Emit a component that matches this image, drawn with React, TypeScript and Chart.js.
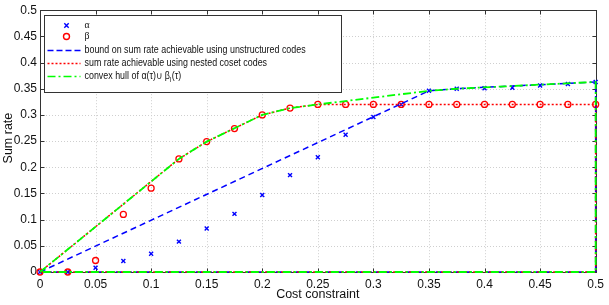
import React, { useEffect, useRef } from "react";
import { Chart, registerables } from "chart.js";

Chart.register(...registerables);

// ---- data ----
const costs = [0, 0.025, 0.05, 0.075, 0.1, 0.125, 0.15, 0.175, 0.2, 0.225, 0.25, 0.275, 0.3, 0.325, 0.35, 0.375, 0.4, 0.425, 0.45, 0.475, 0.5];
const alphaRates = [0, 0, 0.008, 0.021, 0.035, 0.058, 0.083, 0.111, 0.147, 0.185, 0.219, 0.262, 0.296, 0.32, 0.346, 0.35, 0.351, 0.352, 0.356, 0.359, 0.363];
const betaRates = [0, 0, 0.022, 0.11, 0.16, 0.216, 0.249, 0.274, 0.3, 0.313, 0.32, 0.32, 0.32, 0.32, 0.32, 0.32, 0.32, 0.32, 0.32, 0.32, 0.32];
const xTicks = [0, 0.05, 0.1, 0.15, 0.2, 0.25, 0.3, 0.35, 0.4, 0.45, 0.5];
const yTicks = [0, 0.05, 0.1, 0.15, 0.2, 0.25, 0.3, 0.35, 0.4, 0.45, 0.5];
const xTitle = "Cost constraint";
const yTitle = "Sum rate";
const legendLabels = [
  "α",
  "β",
  "bound on sum rate achievable using unstructured codes",
  "sum rate achievable using nested coset codes",
  "convex hull of α(τ)∪ β",
];
const legendSub = "l";
const legendTail = "(τ)";

type P = { x: number; y: number };

function upperHull(pts: P[]): P[] {
  const h: P[] = [];
  const cross = (o: P, a: P, b: P) => (a.x - o.x) * (b.y - o.y) - (a.y - o.y) * (b.x - o.x);
  for (const p of pts) {
    while (h.length >= 2 && cross(h[h.length - 2], h[h.length - 1], p) >= 0) h.pop();
    h.push(p);
  }
  return h;
}

function closedHull(vals: number[]): P[] {
  const pts = costs.map((c, i) => ({ x: c, y: vals[i] }));
  const h = upperHull(pts);
  const last = costs[costs.length - 1];
  return [...h, { x: last, y: 0 }, { x: costs[0], y: 0 }];
}

const BLUE = "#0000ff";
const RED = "#ff0000";
const GREEN = "#00ff00";
const FONT = "'Liberation Sans', Arial, Helvetica, sans-serif";
const SERIF = "'Liberation Serif', 'Times New Roman', serif";
const SQUEEZE = 0.89;

const framePlugin = {
  id: "framePlugin",
  beforeDatasetsDraw(chart: any) {
    const { ctx, chartArea: a, scales } = chart;
    const xs = scales.x, ys = scales.y;
    ctx.save();
    // dotted grid
    ctx.strokeStyle = "#cfcfcf";
    ctx.lineWidth = 1;
    ctx.setLineDash([1, 2]);
    xTicks.forEach((t) => {
      const px = Math.round(xs.getPixelForValue(t)) + 0.5;
      ctx.beginPath();
      ctx.moveTo(px, a.top);
      ctx.lineTo(px, a.bottom);
      ctx.stroke();
    });
    yTicks.forEach((t) => {
      const py = Math.round(ys.getPixelForValue(t)) + 0.5;
      ctx.beginPath();
      ctx.moveTo(a.left, py);
      ctx.lineTo(a.right, py);
      ctx.stroke();
    });
    ctx.setLineDash([]);
    // frame
    ctx.strokeStyle = "#333333";
    const l = Math.round(a.left) + 0.5, r = Math.round(a.right) + 0.5;
    const t = Math.round(a.top) + 0.5, b = Math.round(a.bottom) + 0.5;
    ctx.strokeRect(l, t, r - l, b - t);
    // inner ticks
    const tl = 4;
    xTicks.forEach((v) => {
      const px = Math.round(xs.getPixelForValue(v)) + 0.5;
      ctx.beginPath();
      ctx.moveTo(px, b);
      ctx.lineTo(px, b - tl);
      ctx.moveTo(px, t);
      ctx.lineTo(px, t + tl);
      ctx.stroke();
    });
    yTicks.forEach((v) => {
      const py = Math.round(ys.getPixelForValue(v)) + 0.5;
      ctx.beginPath();
      ctx.moveTo(l, py);
      ctx.lineTo(l + tl, py);
      ctx.moveTo(r, py);
      ctx.lineTo(r - tl, py);
      ctx.stroke();
    });
    // axis titles
    ctx.fillStyle = "#111111";
    ctx.font = `12.5px ${FONT}`;
    ctx.textAlign = "center";
    ctx.textBaseline = "middle";
    ctx.fillText(xTitle, (a.left + a.right) / 2, 295);
    ctx.save();
    ctx.translate(8.5, (a.top + a.bottom) / 2 - 3);
    ctx.rotate(-Math.PI / 2);
    ctx.fillText(yTitle, 0, 0);
    ctx.restore();
    ctx.restore();
  },
  afterDatasetsDraw(chart: any) {
    const { ctx, chartArea: a } = chart;
    ctx.save();
    const bx = Math.round(a.left) + 4.5, by = Math.round(a.top) + 5.5;
    const bw = 297, bh = 77;
    ctx.fillStyle = "#ffffff";
    ctx.fillRect(bx, by, bw, bh);
    ctx.strokeStyle = "#333333";
    ctx.lineWidth = 1;
    ctx.strokeRect(bx, by, bw, bh);
    const rows = [10, 21, 35, 48, 61];
    const lx0 = bx + 3, lx1 = bx + 36, mx = bx + 22, tx = bx + 40;
    ctx.textBaseline = "middle";
    ctx.textAlign = "left";
    const drawText = (s: string, x: number, y: number, font: string) => {
      ctx.save();
      ctx.font = font;
      ctx.translate(x, y);
      ctx.scale(SQUEEZE, 1);
      ctx.fillText(s, 0, 0);
      const w = ctx.measureText(s).width * SQUEEZE;
      ctx.restore();
      return w;
    };
    rows.forEach((dy, i) => {
      const y = by + dy;
      if (i === 0) {
        ctx.strokeStyle = BLUE;
        ctx.lineWidth = 1.4;
        const s = 2.2;
        ctx.beginPath();
        ctx.moveTo(mx - s, y - s);
        ctx.lineTo(mx + s, y + s);
        ctx.moveTo(mx + s, y - s);
        ctx.lineTo(mx - s, y + s);
        ctx.stroke();
      } else if (i === 1) {
        ctx.strokeStyle = RED;
        ctx.lineWidth = 1.4;
        ctx.beginPath();
        ctx.arc(mx, y, 3, 0, Math.PI * 2);
        ctx.stroke();
      } else {
        const colors = [BLUE, RED, GREEN];
        const dashes = [[6, 3], [2, 2], [8, 3, 2, 3]];
        ctx.strokeStyle = colors[i - 2];
        ctx.lineWidth = 1.6;
        ctx.setLineDash(dashes[i - 2]);
        ctx.beginPath();
        ctx.moveTo(lx0, y);
        ctx.lineTo(lx1, y);
        ctx.stroke();
        ctx.setLineDash([]);
      }
      ctx.fillStyle = "#111111";
      const font = i < 2 ? `11px ${SERIF}` : `10px ${FONT}`;
      const w = drawText(legendLabels[i], tx, y, font);
      if (i === 4) {
        const ws = drawText(legendSub, tx + w, y + 4, `7px ${FONT}`);
        drawText(legendTail, tx + w + ws + 0.5, y, `10px ${FONT}`);
      }
    });
    ctx.restore();
  },
};

export default function App() {
  const ref = useRef<HTMLCanvasElement | null>(null);

  useEffect(() => {
    if (!ref.current) return;
    const alphaPts = costs.map((c, i) => ({ x: c, y: alphaRates[i] }));
    const betaPts = costs.map((c, i) => ({ x: c, y: betaRates[i] }));
    const unionRates = costs.map((_, i) => Math.max(alphaRates[i], betaRates[i]));
    const chart = new Chart(ref.current, {
      type: "scatter",
      data: {
        datasets: [
          {
            label: legendLabels[0],
            data: alphaPts,
            showLine: false,
            pointStyle: "crossRot",
            pointRadius: 2.8,
            borderColor: BLUE,
            backgroundColor: BLUE,
            borderWidth: 1.4,
            order: 5,
          } as any,
          {
            label: legendLabels[1],
            data: betaPts,
            showLine: false,
            pointStyle: "circle",
            pointRadius: 3,
            borderColor: RED,
            backgroundColor: "rgba(0,0,0,0)",
            borderWidth: 1.3,
            order: 4,
          },
          {
            label: legendLabels[2],
            data: closedHull(alphaRates),
            showLine: true,
            pointRadius: 0,
            borderColor: BLUE,
            borderWidth: 1.5,
            borderDash: [6, 4],
            fill: false,
            order: 3,
          },
          {
            label: legendLabels[3],
            data: closedHull(betaRates),
            showLine: true,
            pointRadius: 0,
            borderColor: RED,
            borderWidth: 1.5,
            borderDash: [2, 2],
            fill: false,
            order: 2,
          },
          {
            label: legendLabels[4],
            data: closedHull(unionRates),
            showLine: true,
            pointRadius: 0,
            borderColor: GREEN,
            borderWidth: 1.8,
            borderDash: [8, 3, 2, 3],
            fill: false,
            order: 1,
          },
        ],
      },
      options: {
        responsive: false,
        animation: false,
        devicePixelRatio: 1,
        clip: false as any,
        layout: { padding: { top: 9, right: 10, bottom: 0, left: 0 } },
        plugins: {
          legend: { display: false },
          tooltip: { enabled: false },
        },
        scales: {
          x: {
            type: "linear",
            min: 0,
            max: 0.5,
            grid: { display: false, drawTicks: false },
            border: { display: false },
            afterBuildTicks: (s: any) => {
              s.ticks = xTicks.map((v) => ({ value: v }));
            },
            afterFit: (s: any) => {
              s.height = 33;
            },
            ticks: {
              padding: 5,
              color: "#111111",
              font: { family: FONT, size: 12 },
              maxRotation: 0,
              autoSkip: false,
              callback: (v: any) => String(+Number(v).toFixed(3)),
            },
          },
          y: {
            type: "linear",
            min: 0,
            max: 0.5,
            grid: { display: false, drawTicks: false },
            border: { display: false },
            afterBuildTicks: (s: any) => {
              s.ticks = yTicks.map((v) => ({ value: v }));
            },
            afterFit: (s: any) => {
              s.width = 40;
            },
            ticks: {
              padding: 3,
              color: "#111111",
              font: { family: FONT, size: 12 },
              autoSkip: false,
              callback: (v: any) => String(+Number(v).toFixed(3)),
            },
          },
        },
      },
      plugins: [framePlugin],
    });
    return () => chart.destroy();
  }, []);

  return (
    <div style={{ position: "absolute", left: 0, top: 0, width: 609, height: 305, background: "#fff" }}>
      <canvas ref={ref} width={609} height={305} style={{ display: "block", width: 609, height: 305 }} />
    </div>
  );
}
